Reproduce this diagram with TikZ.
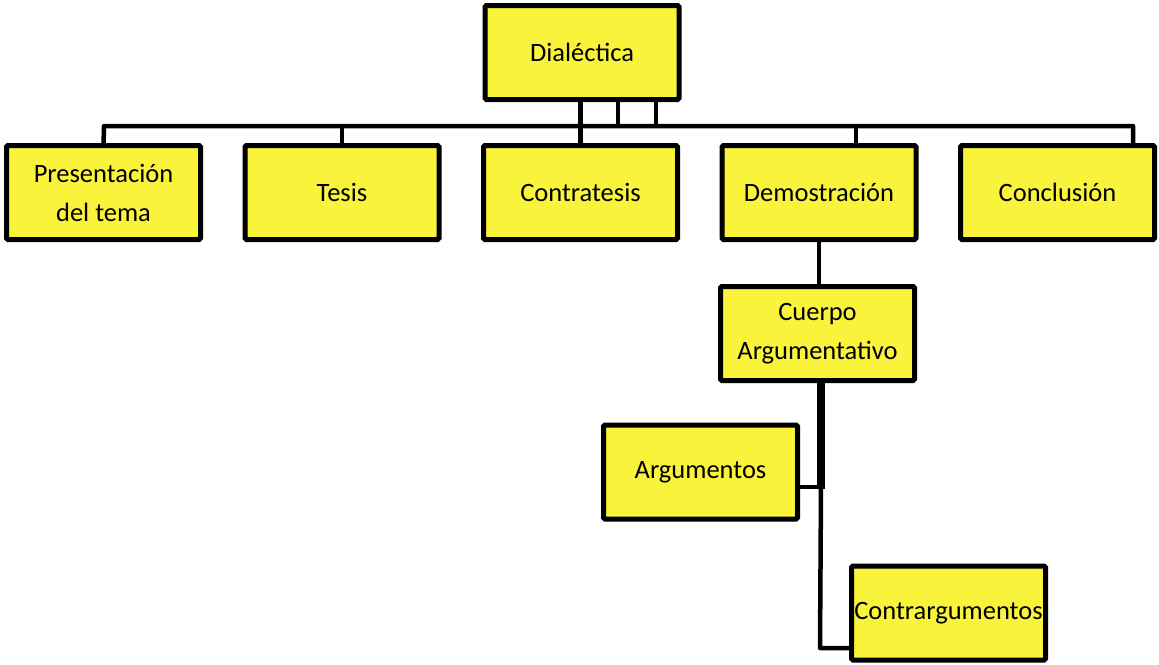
\documentclass[tikz,border=0pt]{standalone}
\usepackage{fontspec}
\setmainfont{Carlito}
\usetikzlibrary{positioning, calc}
\definecolor{boxyellow}{RGB}{249,243,60}

\begin{document}
\begin{tikzpicture}[x=1pt, y=-1pt,
        box/.style={draw, line width=5pt, fill=boxyellow, rounded corners=1.5pt,
            minimum width=194pt, minimum height=94pt, inner sep=0pt, outer sep=0pt,
            align=center, font=\fontsize{26.5}{39}\selectfont},
        link/.style={line width=4.5pt},
        thicklink/.style={line width=8pt},
        node distance=44.5pt]
        \useasboundingbox (0,0) rectangle (1159,664);

        % Draw the boxes
        \node[box] at (103.5,192.5)   (pres)   {Presentación\\del tema};
        \node[box, right=of pres]     (tesis)  {Tesis};
        \node[box, right=of tesis]    (contra) {Contratesis};
        \node[box, right=of contra]   (demo)   {Demostración};
        \node[box, right=of demo]     (conc)   {Conclusión};

        \node[box, above=46pt of contra, xshift=1.5pt] (dia) {Dialéctica};

        \node[box, below=47pt of demo, xshift=-1.5pt]  (cuerpo) {Cuerpo\\Argumentativo};
        \node[box] at (700.5,472)  (arg)  {Argumentos};
        \node[box] at (948.5,613)  (carg) {Contrargumentos};

        % Connect the boxes
        \coordinate (busW) at (104,126);
        \coordinate (busE) at (1133,126);
        \coordinate (demoT) at ($(demo.north)+(37,0)$);
        \coordinate (diaA) at ($(dia.south)+(36,0)$);
        \coordinate (diaB) at ($(dia.south)+(74,0)$);
        \coordinate (join) at (821,487);
        \coordinate (corner) at (820,648);

        \begin{scope}[on background layer/.try]
        \draw[link, line join=round]
            (pres.north) -- (busW) -- (busE) -- (busE |- conc.north);
        \draw[link] (tesis.north) -- (tesis.north |- busW);
        \draw[link] (dia.south -| contra.north) -- (contra.north);
        \draw[link] (diaA) -- (diaA |- busW);
        \draw[link] (diaB) -- (diaB |- busW);
        \draw[link] (demoT) -- (demoT |- busW);

        \draw[link] (demo.south) -- (demo.south |- cuerpo.north);
        \draw[thicklink] (cuerpo.south -| join) -- ($(join)+(0,2)$);
        \draw[link] (arg.east |- join) -- (join);
        \draw[link, line join=round] (join) -- (corner) -- (corner -| carg.west);
        \end{scope}
\end{tikzpicture}
\end{document}
